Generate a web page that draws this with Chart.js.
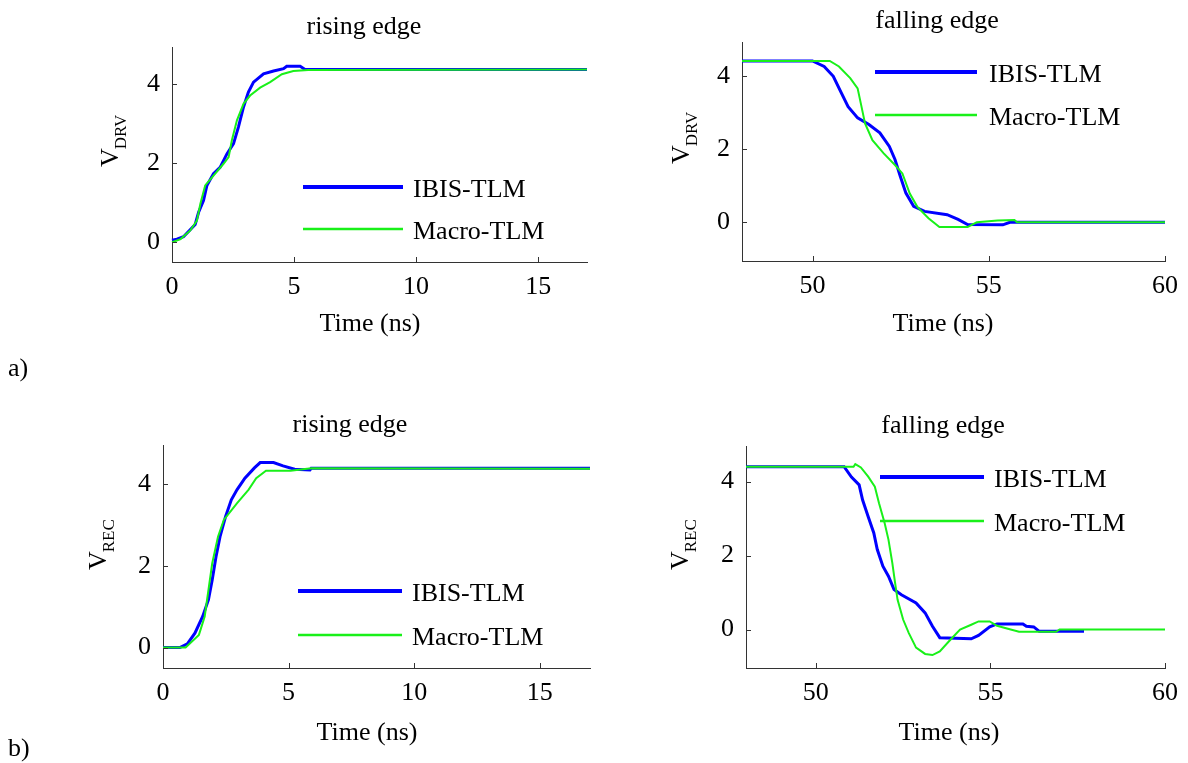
<!DOCTYPE html>
<html>
<head>
<meta charset="utf-8">
<title>IBIS-TLM vs Macro-TLM, rising and falling edges</title>
<script src="https://cdn.jsdelivr.net/npm/chart.js"></script>
<style>
  body { margin: 0; background: #fff; }
  #wrap { position: relative; width: 1188px; height: 763px; }
  #wrap canvas { position: absolute; left: 0; top: 0; }
</style>
</head>
<body>
<div id="wrap">
  <canvas id="riseDrv" width="1188" height="763"></canvas>
  <canvas id="fallDrv" width="1188" height="763"></canvas>
  <canvas id="riseRec" width="1188" height="763"></canvas>
  <canvas id="fallRec" width="1188" height="763"></canvas>
</div>

<script>
// --- data (time in ns, voltage in V) ---
const seriesNames = ['IBIS-TLM', 'Macro-TLM'];

// a) driver, rising edge
const tRiseDrvIbis  = [0, 0.2, 0.47, 0.95, 1.09, 1.29, 1.43, 1.7, 1.97, 2.25, 2.52, 2.72, 2.93, 3.13, 3.34, 3.75, 4.16, 4.57, 4.7, 5.25, 5.45, 17];
const vRiseDrvIbis  = [0.05, 0.08, 0.14, 0.45, 0.76, 1.06, 1.44, 1.74, 1.9, 2.24, 2.5, 2.92, 3.43, 3.81, 4.06, 4.27, 4.34, 4.4, 4.46, 4.46, 4.38, 4.38];
const tRiseDrvMacro = [0, 0.35, 0.75, 1.02, 1.16, 1.36, 1.7, 2.11, 2.32, 2.45, 2.66, 2.93, 3.2, 3.61, 4.02, 4.5, 4.97, 5.58, 17];
const vRiseDrvMacro = [0, 0.08, 0.3, 0.55, 0.97, 1.44, 1.69, 1.99, 2.16, 2.58, 3.09, 3.51, 3.72, 3.92, 4.06, 4.26, 4.34, 4.37, 4.38];

// a) driver, falling edge
const tFallDrvIbis  = [48, 50.0, 50.33, 50.59, 50.8, 51.01, 51.28, 51.6, 51.91, 52.18, 52.34, 52.49, 52.65, 52.87, 53.18, 53.82, 54.13, 54.4, 55.4, 55.6, 60];
const vFallDrvIbis  = [4.42, 4.42, 4.27, 4.0, 3.58, 3.17, 2.86, 2.68, 2.45, 2.08, 1.72, 1.26, 0.8, 0.44, 0.3, 0.21, 0.08, -0.06, -0.07, 0, 0];
const tFallDrvMacro = [48, 50.49, 50.75, 51.07, 51.28, 51.39, 51.49, 51.7, 52.02, 52.34, 52.55, 52.76, 52.97, 53.29, 53.6, 54.4, 54.66, 55.25, 55.73, 55.8, 60];
const vFallDrvMacro = [4.42, 4.42, 4.27, 3.95, 3.67, 3.17, 2.71, 2.25, 1.89, 1.57, 1.34, 0.79, 0.43, 0.11, -0.13, -0.13, 0, 0.05, 0.06, 0, 0];

// b) receiver, rising edge
const tRiseRecIbis  = [0, 0.67, 0.97, 1.27, 1.58, 1.81, 1.96, 2.11, 2.27, 2.49, 2.72, 2.95, 3.26, 3.64, 3.87, 4.4, 4.78, 5.24, 5.85, 5.9, 17];
const vRiseRecIbis  = [0, 0, 0.09, 0.35, 0.76, 1.17, 1.66, 2.22, 2.71, 3.2, 3.61, 3.86, 4.14, 4.39, 4.52, 4.52, 4.44, 4.36, 4.34, 4.38, 4.38];
const tRiseRecMacro = [0, 0.9, 1.43, 1.66, 1.81, 1.96, 2.19, 2.42, 2.95, 3.41, 3.71, 4.1, 5.08, 5.9, 17];
const vRiseRecMacro = [0, 0, 0.31, 0.76, 1.41, 2.06, 2.71, 3.12, 3.53, 3.86, 4.14, 4.32, 4.32, 4.38, 4.37];

// b) receiver, falling edge
const tFallRecIbis  = [48, 50.81, 51.02, 51.24, 51.34, 51.5, 51.66, 51.76, 51.92, 52.08, 52.24, 52.45, 52.87, 53.13, 53.34, 53.55, 54.45, 54.66, 54.98, 55.19, 55.93, 56.03, 56.24, 56.4, 57.68];
const vFallRecIbis  = [4.4, 4.4, 4.12, 3.91, 3.5, 3.05, 2.61, 2.16, 1.71, 1.44, 1.08, 0.94, 0.72, 0.45, 0.09, -0.22, -0.25, -0.16, 0.07, 0.15, 0.15, 0.09, 0.07, -0.05, -0.05];
const tFallRecMacro = [48, 51.08, 51.13, 51.29, 51.5, 51.69, 51.81, 51.97, 52.08, 52.19, 52.27, 52.34, 52.5, 52.66, 52.87, 53.13, 53.34, 53.55, 53.82, 54.13, 54.45, 54.66, 54.98, 55.19, 55.5, 55.82, 56.88, 56.98, 60];
const vFallRecMacro = [4.4, 4.4, 4.47, 4.38, 4.13, 3.86, 3.41, 2.88, 2.43, 1.8, 1.26, 0.81, 0.27, -0.09, -0.49, -0.66, -0.69, -0.59, -0.31, 0, 0.13, 0.22, 0.22, 0.1, 0.02, -0.06, -0.06, 0, 0];

// tick labels
const xTicksRise = [0, 5, 10, 15];
const xTicksFall = [50, 55, 60];
const yTicks = [0, 2, 4];

// --- drawing ---
const W = 1188, H = 763;
const YW = 60, XH = 40;           // fixed axis sizes
const FONT = '"Liberation Serif", "Times New Roman", serif';
const BLUE = '#0000ff';
const GREEN = '#19f019';
const AXIS = '#333';

function toXY(ts, vs) {
  return ts.map((t, i) => ({ x: t, y: vs[i] }));
}

// titles, axis labels with subscript, inward ticks, legend, panel tag
const decor = {
  id: 'decor',
  afterDraw(chart, args, o) {
    const ctx = chart.ctx, a = chart.chartArea;
    const xs = chart.scales.x, ys = chart.scales.y;
    ctx.save();

    ctx.strokeStyle = AXIS;
    ctx.lineWidth = 1;
    ctx.beginPath();
    xs.ticks.forEach(t => {
      const px = Math.round(xs.getPixelForValue(t.value)) + 0.5;
      ctx.moveTo(px, a.bottom); ctx.lineTo(px, a.bottom - 5);
    });
    ys.ticks.forEach(t => {
      const py = Math.round(ys.getPixelForValue(t.value)) + 0.5;
      ctx.moveTo(a.left, py); ctx.lineTo(a.left + 5, py);
    });
    ctx.stroke();

    ctx.fillStyle = '#000';
    ctx.font = '26px ' + FONT;
    ctx.textAlign = 'center';
    ctx.textBaseline = 'alphabetic';
    ctx.fillText(o.title[0], o.title[1], o.title[2]);
    ctx.fillText('Time (ns)', o.xlab[0], o.xlab[1]);

    // rotated V with subscript
    ctx.save();
    ctx.translate(o.ylab[0], o.ylab[1]);
    ctx.rotate(-Math.PI / 2);
    ctx.textAlign = 'left';
    ctx.fillText('V', 0, 0);
    const vw = ctx.measureText('V').width;
    ctx.font = '17px ' + FONT;
    ctx.fillText(o.ylab[2], vw - 1, 8);
    ctx.restore();

    // legend
    const ds = chart.data.datasets;
    const lw = [4, 2.5];
    ctx.font = '26px ' + FONT;
    ctx.textAlign = 'left';
    ctx.textBaseline = 'middle';
    o.legend.y.forEach((ly, i) => {
      ctx.strokeStyle = ds[i].borderColor;
      ctx.lineWidth = lw[i];
      ctx.beginPath();
      ctx.moveTo(o.legend.x1, ly); ctx.lineTo(o.legend.x2, ly);
      ctx.stroke();
      ctx.fillText(ds[i].label, o.legend.tx, ly + 3);
    });

    if (o.tag) {
      ctx.textBaseline = 'alphabetic';
      ctx.fillText(o.tag[0], o.tag[1], o.tag[2]);
    }
    ctx.restore();
  }
};

function makePanel(id, area, xr, xt, yr, ibis, macro, deco) {
  const tickFont = { family: FONT, size: 26 };
  new Chart(document.getElementById(id), {
    type: 'line',
    data: {
      datasets: [
        { label: seriesNames[0], data: toXY(ibis[0], ibis[1]), borderColor: BLUE, borderWidth: 3, order: 2, clip: 8 },
        { label: seriesNames[1], data: toXY(macro[0], macro[1]), borderColor: GREEN, borderWidth: 2, order: 1, clip: 8 }
      ]
    },
    options: {
      responsive: false,
      animation: false,
      events: [],
      layout: { padding: { left: area[0] - YW, top: area[1], right: W - area[2], bottom: H - area[3] - XH } },
      elements: { point: { radius: 0 }, line: { tension: 0 } },
      plugins: { legend: { display: false }, tooltip: { enabled: false }, decor: deco },
      scales: {
        x: {
          type: 'linear', min: xr[0], max: xr[1],
          afterBuildTicks: s => { s.ticks = xt.map(v => ({ value: v })); },
          afterFit: s => { s.height = XH; },
          grid: { drawOnChartArea: false, drawTicks: false },
          border: { display: true, color: AXIS, width: 1 },
          ticks: { font: tickFont, color: '#000', padding: 10, maxRotation: 0 }
        },
        y: {
          type: 'linear', min: yr[0], max: yr[1],
          afterBuildTicks: s => { s.ticks = yTicks.map(v => ({ value: v })); },
          afterFit: s => { s.width = YW; },
          grid: { drawOnChartArea: false, drawTicks: false },
          border: { display: true, color: AXIS, width: 1 },
          ticks: { font: tickFont, color: '#000', padding: 12 }
        }
      }
    },
    plugins: [decor]
  });
}

makePanel('riseDrv', [172, 47, 587, 262], [0, 17], xTicksRise, [-0.5, 4.95],
  [tRiseDrvIbis, vRiseDrvIbis], [tRiseDrvMacro, vRiseDrvMacro],
  { title: ['rising edge', 364, 34], xlab: [370, 331], ylab: [118, 167, 'DRV'],
    legend: { x1: 303, x2: 403, tx: 413, y: [187, 229] }, tag: ['a)', 8, 376] });

makePanel('fallDrv', [742, 42, 1166, 261], [48, 60], xTicksFall, [-1.06, 4.94],
  [tFallDrvIbis, vFallDrvIbis], [tFallDrvMacro, vFallDrvMacro],
  { title: ['falling edge', 937, 28], xlab: [943, 331], ylab: [689, 164, 'DRV'],
    legend: { x1: 875, x2: 977, tx: 989, y: [72, 115] } });

makePanel('riseRec', [163, 445, 590, 668], [0, 17], xTicksRise, [-0.5, 4.95],
  [tRiseRecIbis, vRiseRecIbis], [tRiseRecMacro, vRiseRecMacro],
  { title: ['rising edge', 350, 432], xlab: [367, 740], ylab: [106, 570, 'REC'],
    legend: { x1: 298, x2: 402, tx: 412, y: [591, 635] }, tag: ['b)', 8, 756] });

makePanel('fallRec', [746, 446, 1173, 668], [48, 60], xTicksFall, [-1.04, 4.96],
  [tFallRecIbis, vFallRecIbis], [tFallRecMacro, vFallRecMacro],
  { title: ['falling edge', 943, 433], xlab: [949, 740], ylab: [688, 570, 'REC'],
    legend: { x1: 880, x2: 984, tx: 994, y: [477, 521] } });
</script>
</body>
</html>
